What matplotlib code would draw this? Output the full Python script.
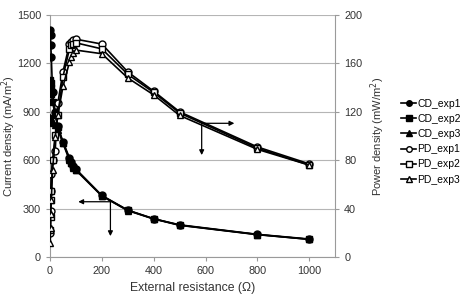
import matplotlib
matplotlib.use("Agg")
import matplotlib.pyplot as plt

# External resistance (ohm)
R = [1, 2, 3, 5, 10, 20, 30, 50, 75, 80, 90, 100, 200, 300, 400, 500, 800, 1000]

# Current density (mA/m2)
CD_exp1 = [1410, 1375, 1315, 1240, 1020, 900, 810, 715, 615, 590, 565, 545, 382, 291, 237, 200, 141, 112]
CD_exp2 = [1100, 1080, 1050, 1010, 960, 880, 805, 710, 608, 585, 560, 542, 380, 290, 238, 198, 140, 110]
CD_exp3 = [870, 860, 850, 840, 830, 820, 790, 705, 600, 580, 555, 538, 378, 288, 236, 197, 139, 110]

# Power density (mW/m2)
PD_exp1 = [20, 38, 55, 69, 80, 88, 127, 153, 176, 178, 179, 180, 176, 153, 137, 120, 91, 77]
PD_exp2 = [22, 33, 47, 55, 80, 101, 117, 149, 172, 175, 176, 177, 172, 151, 136, 119, 90, 76]
PD_exp3 = [12, 24, 36, 47, 72, 99, 117, 141, 161, 165, 169, 171, 168, 148, 134, 117, 89, 76]

xticks = [0, 200, 400, 600, 800, 1000]
yticks_left = [0, 300, 600, 900, 1200, 1500]
yticks_right = [0, 40, 80, 120, 160, 200]

plt.rcParams['font.family'] = ['Liberation Sans', 'DejaVu Sans']
fig = plt.figure(figsize=(4.63, 3.0), dpi=100)
ax = fig.add_axes([0.108, 0.143, 0.616, 0.807])
ax2 = ax.twinx()

grey = '#9a9a9a'
txt = '#333333'
ms = 5
lw = 1.2

l1, = ax.plot(R, CD_exp1, color='black', marker='o', ms=ms, lw=lw, zorder=3)
l2, = ax.plot(R, CD_exp2, color='black', marker='s', ms=ms, lw=lw, zorder=3)
l3, = ax.plot(R, CD_exp3, color='black', marker='^', ms=ms, lw=lw, zorder=3)
l4, = ax2.plot(R, PD_exp1, color='black', marker='o', ms=ms, lw=lw, mfc='white')
l5, = ax2.plot(R, PD_exp2, color='black', marker='s', ms=ms, lw=lw, mfc='white')
l6, = ax2.plot(R, PD_exp3, color='black', marker='^', ms=ms, lw=lw, mfc='white')

ax.set_xlim(0, 1100)
ax.set_ylim(0, 1500)
ax2.set_ylim(0, 200)
ax.set_xticks(xticks)
ax.set_yticks(yticks_left)
ax2.set_yticks(yticks_right)
ax.grid(axis='y', color='#b5b5b5', lw=0.8)
ax.set_axisbelow(True)

for a in (ax, ax2):
    a.spines['top'].set_visible(False)
    for s in ('left', 'right', 'bottom'):
        a.spines[s].set_color(grey)
        a.spines[s].set_linewidth(0.8)
    a.tick_params(colors=grey, labelcolor=txt, labelsize=7.8, length=3, width=0.8)
ax.spines['right'].set_visible(False)
ax2.spines['left'].set_visible(False)
ax2.spines['bottom'].set_visible(False)

ax.set_xlabel('External resistance (Ω)', fontsize=8.8, color=txt, labelpad=4)
ax.set_ylabel('Current density (mA/m$^2$)', fontsize=8, color=txt)
ax2.set_ylabel('Power density (mW/m$^2$)', fontsize=8, color=txt)
ax.yaxis.set_label_coords(-0.112, 0.5)
ax2.yaxis.set_label_coords(1.118, 0.5)

arrow = dict(arrowstyle='-|>', color='black', lw=0.9, mutation_scale=7, shrinkA=0, shrinkB=0)
ax.annotate('', xy=(109, 343), xytext=(233, 343), arrowprops=arrow)
ax.annotate('', xy=(233, 130), xytext=(233, 343), arrowprops=arrow)
ax.annotate('', xy=(711, 829), xytext=(585, 829), arrowprops=arrow)
ax.annotate('', xy=(585, 632), xytext=(585, 829), arrowprops=arrow)

handles = [l1, l2, l3, l4, l5, l6]
labels = ['CD_exp1', 'CD_exp2', 'CD_exp3', 'PD_exp1', 'PD_exp2', 'PD_exp3']
fig.legend(handles, labels, loc='upper left', bbox_to_anchor=(0.858, 0.685),
           frameon=False, fontsize=7.5, handlelength=1.4, handletextpad=0.15,
           labelspacing=0.5, borderaxespad=0, markerscale=0.8)

fig.savefig('out.png', dpi=100)
